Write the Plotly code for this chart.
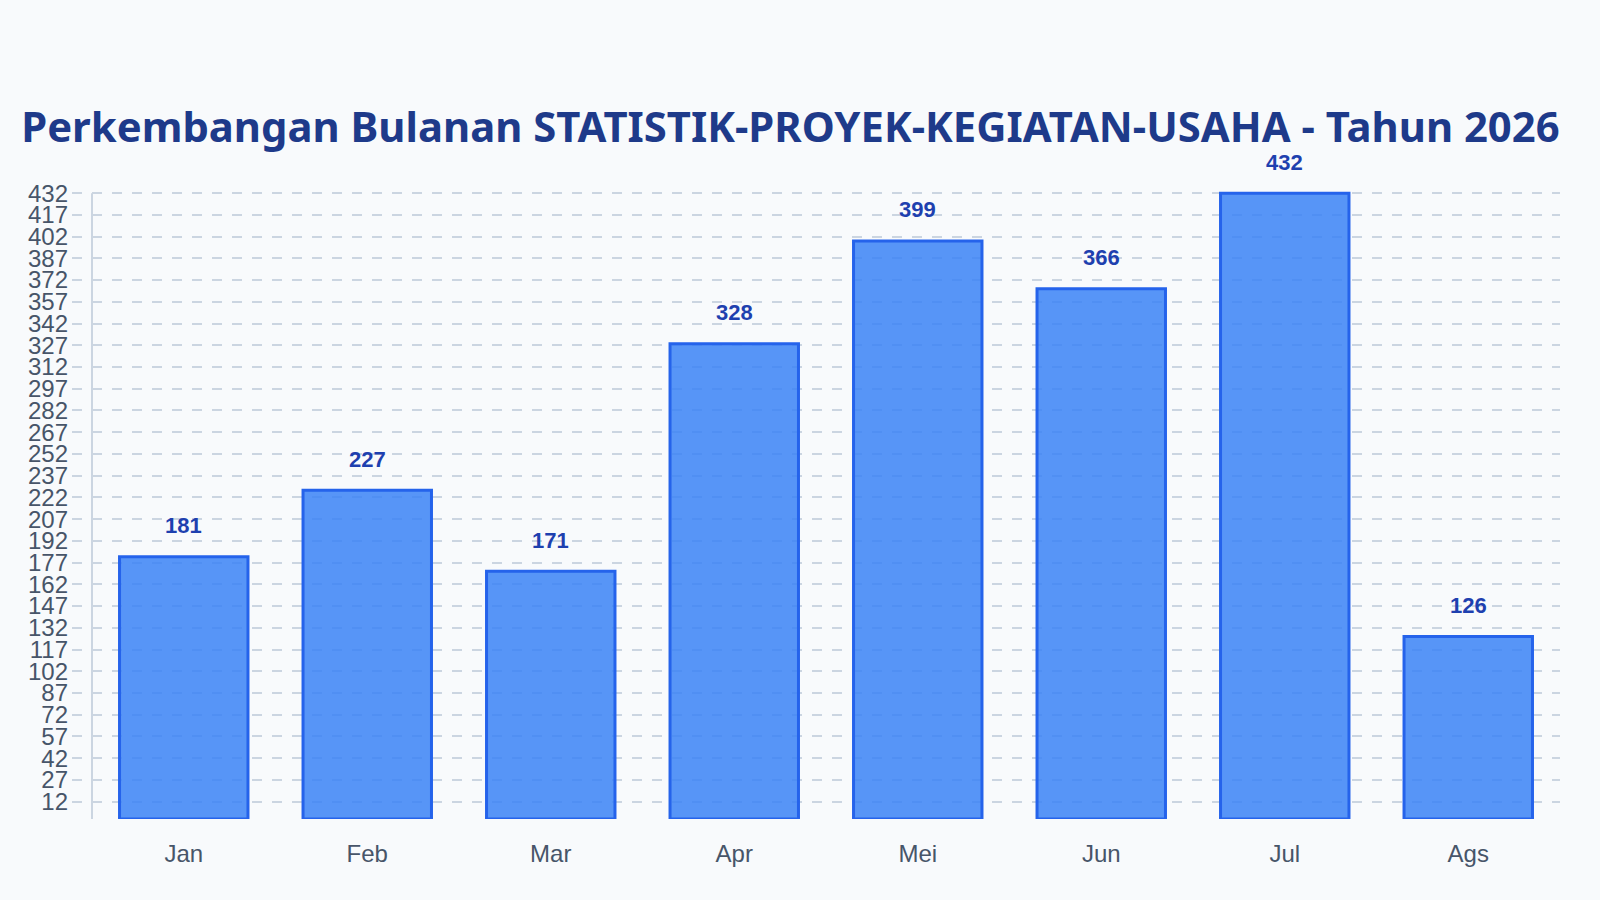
import plotly.graph_objects as go

# data
months = ["Jan", "Feb", "Mar", "Apr", "Mei", "Jun", "Jul", "Ags"]
values = [181, 227, 171, 328, 399, 366, 432, 126]

title_text = "Perkembangan Bulanan STATISTIK-PROYEK-KEGIATAN-USAHA - Tahun 2026"

colors = {
    "bg": "#f8fafc",
    "bar": "rgba(59,130,246,0.85)",
    "bar_line": "#2563eb",
    "label": "#1e40af",
    "title": "#1e3a8a",
    "tick": "#475569",
    "grid": "#cbd5e1",
}

fig = go.Figure()

fig.add_trace(
    go.Bar(
        x=months,
        y=values,
        width=0.7,
        marker=dict(
            color=colors["bar"],
            line=dict(color=colors["bar_line"], width=3)
        ),
        hoverinfo="x+y",
        showlegend=False
    )
)

# value labels above bars
for m, v in zip(months, values):
    fig.add_annotation(
        x=m,
        y=v,
        text=f"<b>{v}</b>",
        showarrow=False,
        yanchor="middle",
        yshift=31,
        font=dict(family="Liberation Sans, Arial, sans-serif", size=22, color=colors["label"])
    )

# y axis line sits at the left edge of the first category
fig.add_shape(
    type="line",
    xref="x", yref="y",
    x0=-0.5, x1=-0.5, y0=0, y1=max(values),
    line=dict(color=colors["grid"], width=2)
)

fig.update_layout(
    width=1600,
    height=900,
    paper_bgcolor=colors["bg"],
    plot_bgcolor=colors["bg"],
    margin=dict(l=72, r=40, t=191, b=81),
    title=dict(
        text=f"<b>{title_text}</b>",
        x=0.494,
        xanchor="center",
        xref="container",
        y=1 - 127 / 900,
        yanchor="middle",
        font=dict(family="Noto Sans, sans-serif", size=41.8, color=colors["title"])
    ),
    font=dict(family="Liberation Sans, Arial, sans-serif", size=24, color=colors["tick"]),
    xaxis=dict(
        range=[-0.609, 7.5],
        showgrid=False,
        showline=False,
        zeroline=False,
        ticks="",
        ticklabelstandoff=18,
        tickfont=dict(size=24, color=colors["tick"])
    ),
    yaxis=dict(
        range=[0, 433.5],
        tickmode="linear",
        tick0=12,
        dtick=15,
        showgrid=True,
        gridcolor=colors["grid"],
        gridwidth=2,
        griddash="10px,10px",
        zeroline=False,
        showline=False,
        ticks="",
        ticklabelstandoff=3,
        tickfont=dict(size=24, color=colors["tick"])
    )
)

fig.write_html(
    "out.html",
    config={"displayModeBar": False},
    post_script="document.body.style.margin='0';document.body.style.overflow='hidden';"
)
